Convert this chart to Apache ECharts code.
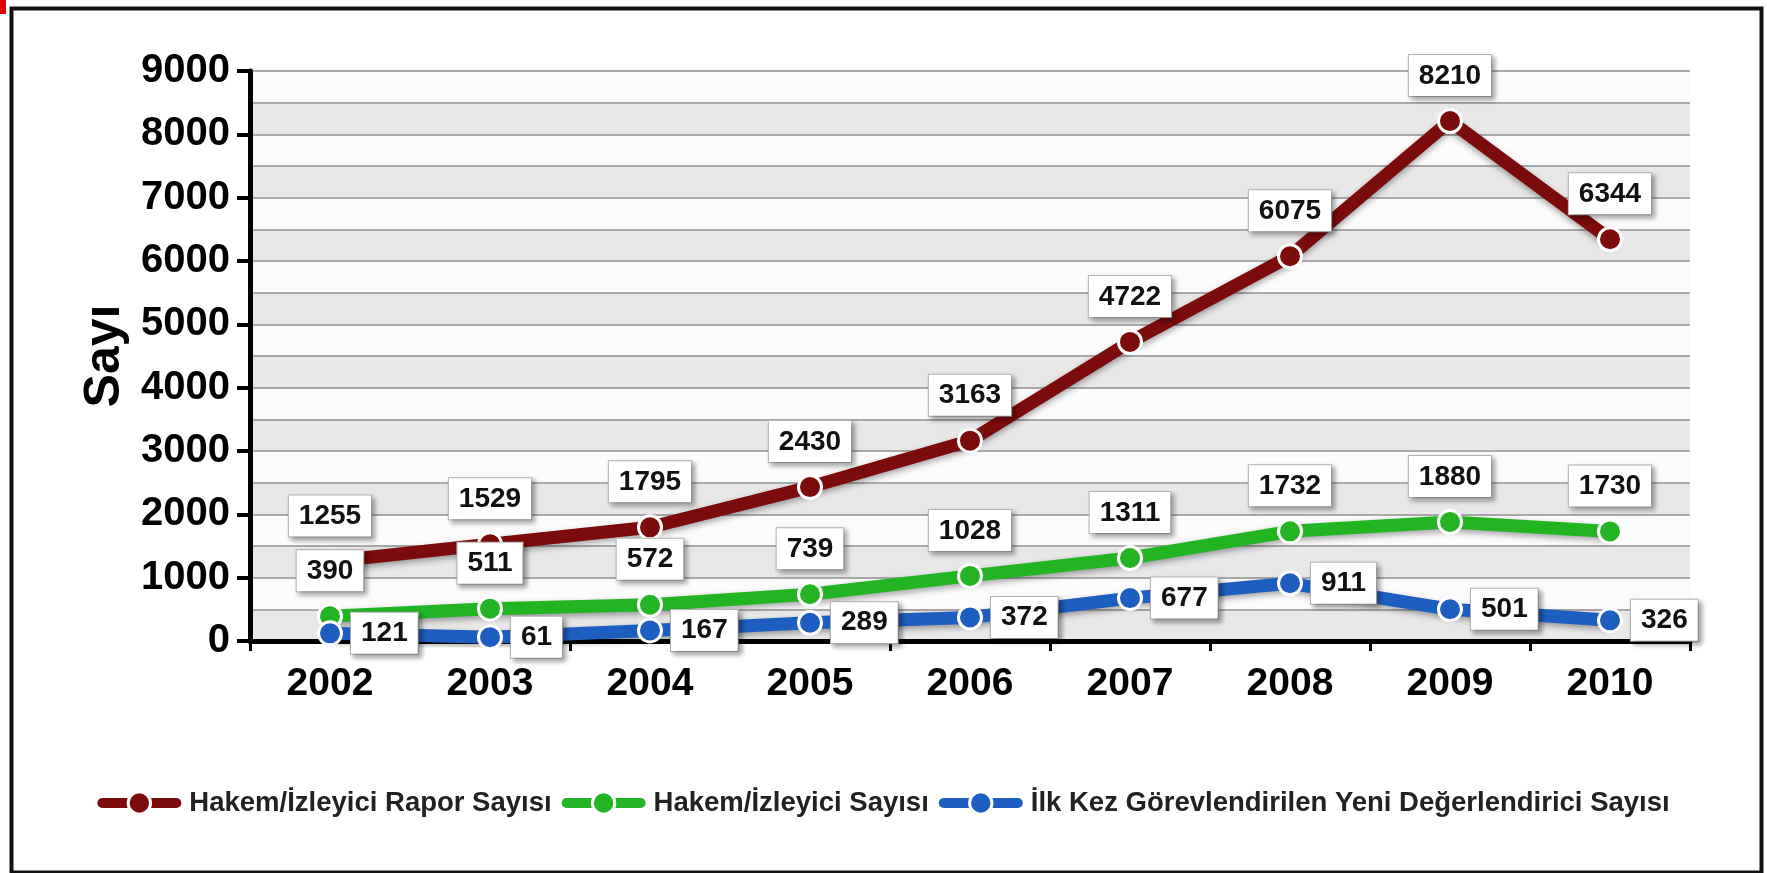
<!DOCTYPE html>
<html>
<head>
<meta charset="utf-8">
<script src="https://cdn.jsdelivr.net/npm/echarts@6/dist/echarts.min.js"></script>
<style>html,body{margin:0;padding:0;background:#fff;}#c{width:1767px;height:873px;}</style>
</head>
<body>
<div id="c"></div>
<script>
const years = ['2002','2003','2004','2005','2006','2007','2008','2009','2010'];
const raporSayisi = [1255, 1529, 1795, 2430, 3163, 4722, 6075, 8210, 6344];
const hakemSayisi = [390, 511, 572, 739, 1028, 1311, 1732, 1880, 1730];
const yeniDegerlendirici = [121, 61, 167, 289, 372, 677, 911, 501, 326];
const seriesNames = ['Hakem/İzleyici Rapor Sayısı', 'Hakem/İzleyici Sayısı', 'İlk Kez Görevlendirilen Yeni Değerlendirici Sayısı'];
const yAxisTitle = 'Sayı';

const FONT = 'Liberation Sans, Arial, Helvetica, sans-serif';
const chart = echarts.init(document.getElementById('c'));

function labelCfg(pos) {
  return {
    show: true,
    position: pos,
    distance: pos === 'top' ? 12 : 8,
    fontFamily: FONT,
    fontWeight: 'bold',
    fontSize: 28,
    color: '#111',
    backgroundColor: '#fff',
    borderColor: '#b5b5b5',
    borderWidth: 1,
    padding: [7, 10, 6, 10],
    shadowColor: 'rgba(0,0,0,0.35)',
    shadowBlur: 5,
    shadowOffsetX: 3,
    shadowOffsetY: 3
  };
}
function mkSeries(name, data, color, pos) {
  return {
    name: name,
    type: 'line',
    data: data,
    symbol: 'circle',
    symbolSize: 23,
    z: 3,
    itemStyle: { color: color, borderColor: '#fff', borderWidth: 3 },
    lineStyle: { color: color, width: 13, shadowColor: 'rgba(0,0,0,0.35)', shadowBlur: 6, shadowOffsetY: 3 },
    label: labelCfg(pos),
    labelLayout: { hideOverlap: false }
  };
}

chart.setOption({
  backgroundColor: '#fff',
  animation: false,
  graphic: [
    { type: 'rect', left: 9, top: 6, shape: { width: 1750, height: 864 }, style: { fill: 'none', stroke: '#111', lineWidth: 4 }, silent: true, z: -1 },
    { type: 'rect', left: 0, top: 0, shape: { width: 6, height: 14 }, style: { fill: '#e00000' }, silent: true }
  ],
  grid: { left: 250, right: 77, top: 71, bottom: 232 },
  legend: {
    left: 'center',
    top: 784,
    itemWidth: 74,
    itemHeight: 28,
    itemGap: 10,
    lineStyle: { width: 10, cap: 'round' },
    itemStyle: { borderColor: '#fff', borderWidth: 3 },
    textStyle: { fontFamily: FONT, fontWeight: 'bold', fontSize: 27.5, color: '#222', padding: [0, 0, 0, 8] },
    data: seriesNames
  },
  xAxis: {
    type: 'category',
    data: years,
    boundaryGap: true,
    axisLine: { lineStyle: { color: '#000', width: 5 } },
    axisTick: { show: true, length: 10, lineStyle: { color: '#000', width: 3 } },
    axisLabel: { fontFamily: FONT, fontWeight: 'bold', fontSize: 39, color: '#000', margin: 24 },
    splitLine: { show: false }
  },
  yAxis: [
    {
      type: 'value',
      min: 0, max: 9000, interval: 1000,
      name: yAxisTitle,
      nameLocation: 'middle',
      nameRotate: 90,
      nameGap: 116,
      nameTextStyle: { fontFamily: FONT, fontWeight: 'bold', fontSize: 50, color: '#000' },
      axisLine: { show: true, lineStyle: { color: '#000', width: 5 } },
      axisTick: { show: true, inside: false, length: 13, lineStyle: { color: '#000', width: 4 } },
      axisLabel: { fontFamily: FONT, fontWeight: 'bold', fontSize: 40, color: '#000', margin: 20, formatter: function (v) { return String(v); } },
      splitLine: { show: false },
      z: 4
    },
    {
      type: 'value',
      min: 0, max: 9000, interval: 500,
      position: 'left',
      axisLine: { show: false },
      axisTick: { show: false },
      axisLabel: { show: false },
      splitLine: { show: true, lineStyle: { color: '#a9a9a9', width: 2 } },
      splitArea: { show: true, areaStyle: { color: ['#e8e8e8', '#fbfbfb'] } }
    }
  ],
  series: [
    mkSeries(seriesNames[0], raporSayisi, '#7c0b0b', 'top'),
    mkSeries(seriesNames[1], hakemSayisi, '#22b422', 'top'),
    mkSeries(seriesNames[2], yeniDegerlendirici, '#1e5ec0', 'right')
  ]
});
</script>
</body>
</html>
